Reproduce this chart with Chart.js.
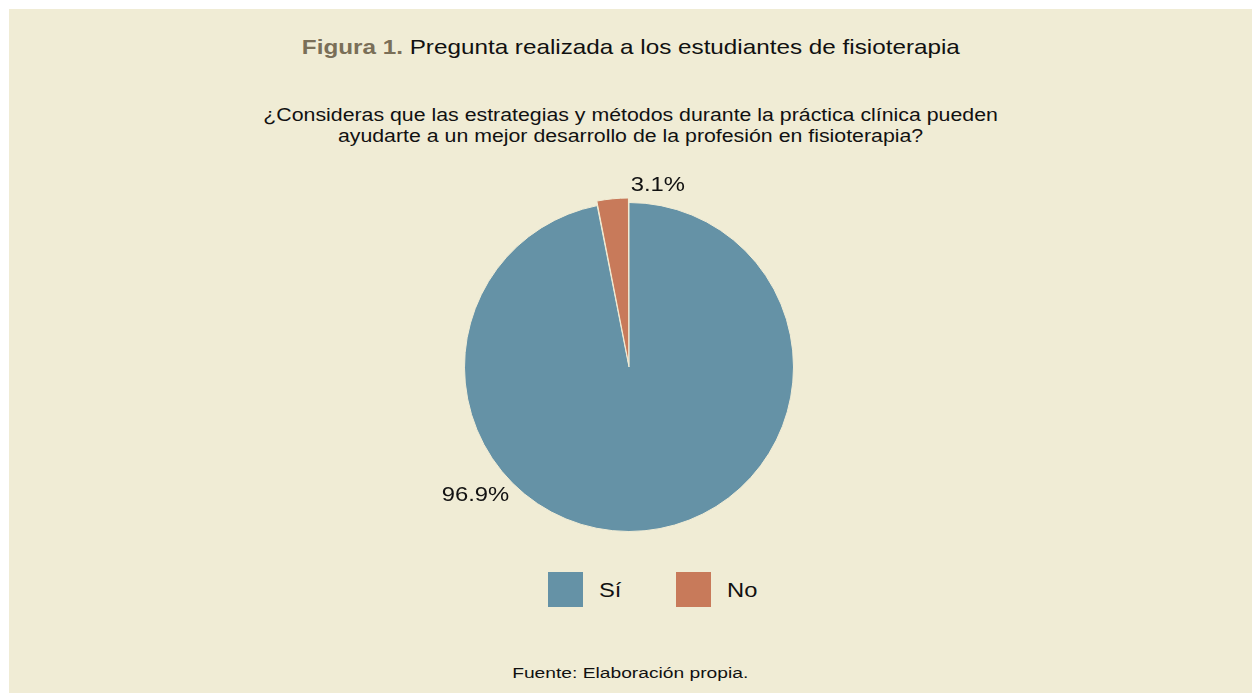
<!DOCTYPE html>
<html>
<head>
<meta charset="utf-8">
<script src="https://cdn.jsdelivr.net/npm/chart.js@4.4.0/dist/chart.umd.min.js"></script>
<style>
  html, body { margin: 0; padding: 0; background: #fff; }
  #panel {
    position: absolute; left: 9px; top: 9px; width: 1243px; height: 684px;
    background: #f0ecd5; font-family: "Liberation Sans", Arial, sans-serif; color: #111;
  }
  .line { position: absolute; left: 0; width: 100%; text-align: center; white-space: nowrap; }
  .line span { display: inline-block; transform-origin: 50% 50%; }
  #title { top: 26px; font-size: 21px; }
  #title span { transform: scaleX(1.155); }
  #title b { color: #7a6f58; }
  #subtitle { top: 96px; font-size: 17.5px; line-height: 21px; }
  #subtitle span { transform: scaleX(1.218); }
  #wrap { position: absolute; left: 420px; top: 158px; width: 400px; height: 400px; }
  #legend { position: absolute; top: 563px; left: 539px; font-size: 21px; }
  .item { position: absolute; top: 0; white-space: nowrap; }
  .box { position: absolute; top: 0; width: 35px; height: 35px; }
  .lbl { position: absolute; top: 6px; transform: scaleX(1.13); transform-origin: 0 50%; }
  #source { top: 655px; font-size: 15.5px; }
  #source span { transform: scaleX(1.24); }
</style>
</head>
<body>
<div id="panel">
  <div id="title" class="line"><span><b>Figura 1.</b> Pregunta realizada a los estudiantes de fisioterapia</span></div>
  <div id="subtitle" class="line"><span>¿Consideras que las estrategias y métodos durante la práctica clínica pueden<br>ayudarte a un mejor desarrollo de la profesión en fisioterapia?</span></div>
  <div id="wrap"><canvas id="myChart"></canvas></div>
  <div id="legend"></div>
  <div id="source" class="line"><span>Fuente: Elaboración propia.</span></div>
</div>
<script>
var labels = ['Sí', 'No'];
var values = [96.9, 3.1];
var valueLabels = ['96.9%', '3.1%'];
var colors = ['#6592a6', '#c87a5a'];

// leyenda en HTML
var legend = document.getElementById('legend');
labels.forEach(function(l, i){
	var item = document.createElement('div');
	item.className = 'item';
	item.style.left = (i * 128) + 'px';
	item.innerHTML = '<div class="box" style="background:' + colors[i] + '"></div><div class="lbl" style="left:51px">' + l + '</div>';
	legend.appendChild(item);
});

// etiquetas de porcentaje fuera del pastel
var labelPlugin = {
	id: 'pctLabels',
	afterDatasetsDraw: function(chart, args, opts){
		var ctx = chart.ctx;
		var arcs = chart.getDatasetMeta(0).data;
		arcs.forEach(function(arc, i){
			var p = opts.anchors[i];
			var a = p.angle * Math.PI / 180;
			var r = arc.outerRadius + p.dist;
			ctx.save();
			ctx.translate(arc.x + Math.cos(a) * r, arc.y + Math.sin(a) * r);
			ctx.scale(1.19, 1);
			ctx.font = '20px "Liberation Sans", Arial, sans-serif';
			ctx.fillStyle = '#111';
			ctx.textBaseline = 'middle';
			ctx.textAlign = 'center';
			ctx.fillText(valueLabels[i], 0, 0);
			ctx.restore();
		});
	}
};

var ctx = document.getElementById('myChart').getContext('2d');
var myPie = new Chart(ctx, {
	type: 'pie',
	data: {
		labels: labels,
		datasets: [{
			data: values,
			backgroundColor: colors,
			borderColor: '#f0ecd5',
			borderWidth: 1,
			offset: [0, 10]
		}]
	},
	options: {
		responsive: true,
		maintainAspectRatio: false,
		animation: false,
		layout: { padding: 30 },
		plugins: {
			legend: { display: false },
			tooltip: { enabled: false },
			pctLabels: {
				anchors: [
					{ angle: 140, dist: 36, align: 'center' },
					{ angle: -81, dist: 19.5, align: 'center' }
				]
			}
		}
	},
	plugins: [labelPlugin]
});
</script>
</body>
</html>
